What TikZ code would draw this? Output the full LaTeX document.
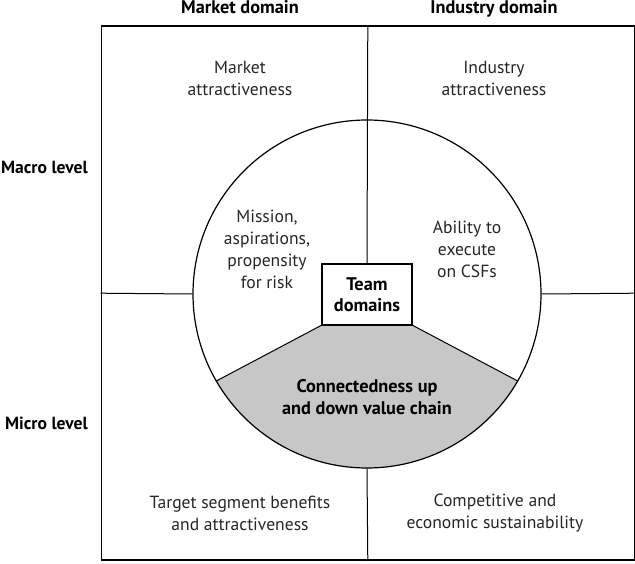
\documentclass[tikz,border=0pt]{standalone}
\usepackage{fontspec}
\setmainfont{PT Sans}
\usetikzlibrary{calc}
\begin{document}
\begin{tikzpicture}[x=1pt,y=1pt,
  frame/.style={line width=1.6pt},
  divider/.style={line width=1pt},
  lbl/.style={align=center,inner sep=0pt,font=\fontsize{17.6}{22}\selectfont,text=black!85},
  blbl/.style={align=center,inner sep=0pt,font=\fontsize{18.3}{21.5}\selectfont\bfseries},
  sidelbl/.style={anchor=east,inner sep=0pt,font=\fontsize{17.6}{21.5}\selectfont\bfseries}]
\useasboundingbox (0,0) rectangle (635,563);
\coordinate (O) at (367,269);
% gray lower region
\fill[black!22] (322,238) -- ($(O)+(210:174)$) arc[start angle=210,end angle=330,radius=174] -- (412,238) -- cycle;
\draw[divider] (322,238) -- ($(O)+(210:174)$);
\draw[divider] (412,238) -- ($(O)+(330:174)$);
% circle
\node[circle,draw,line width=1.2pt,minimum size=348pt,inner sep=0pt] (circ) at (O) {};
% outer frame
\node[draw,frame,minimum width=533pt,minimum height=534pt,inner sep=0pt,anchor=south west] (frame) at (100.5,2) {};
% dividers
\draw[divider] (frame.north) -- (367,299);
\draw[divider] (circ.south) -- (frame.south);
\draw[divider] (frame.west) -- (circ.west);
\draw[divider] (circ.east) -- (frame.east);
% team box
\node[draw,fill=white,line width=1.3pt,minimum width=90pt,minimum height=61pt,inner sep=0pt,blbl] (team) at (367,268.5) {Team\\domains};
% labels
\node[blbl,anchor=base] (mdom) at (240,549) {Market domain};
\node[blbl,anchor=base] (idom) at (494,549) {Industry domain};
\node[sidelbl] (macro) at (88,396) {Macro level};
\node[sidelbl] (micro) at (88,140) {Micro level};
\node[lbl] (ma) at (240,485) {Market\\attractiveness};
\node[lbl] (ia) at (494,485) {Industry\\attractiveness};
\node[lbl] (mission) at (267,314) {Mission,\\aspirations,\\propensity\\for risk};
\node[lbl] (ability) at (467,314) {Ability to\\execute\\on CSFs};
\node[blbl] (conn) at (367,166) {Connectedness up\\and down value chain};
\node[lbl] (target) at (240,50) {Target segment benefits\\and attractiveness};
\node[lbl] (comp) at (495,50) {Competitive and\\economic sustainability};
\end{tikzpicture}
\end{document}
